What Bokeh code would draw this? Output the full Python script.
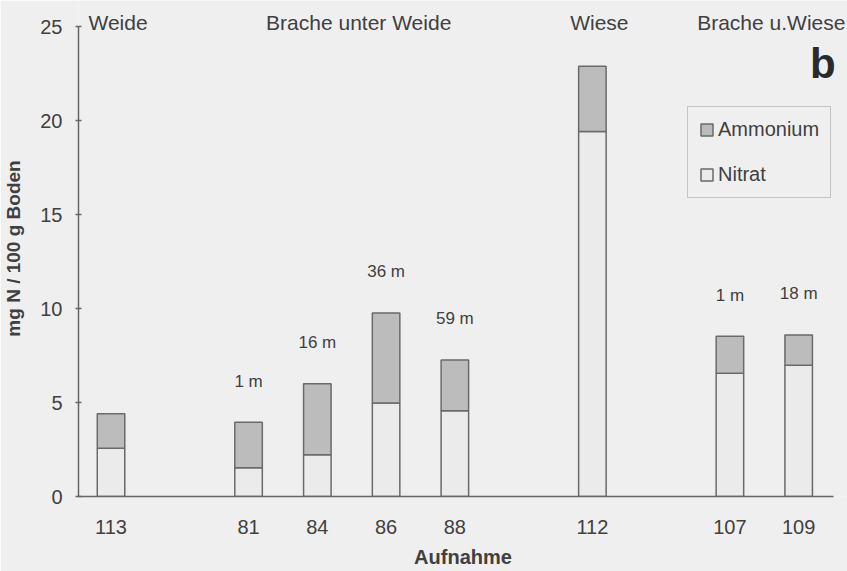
from bokeh.plotting import figure
from bokeh.models import (ColumnDataSource, Range1d, FixedTicker, Legend, LegendItem, Label)
from bokeh.core.properties import value
from bokeh.embed import file_html
from bokeh.resources import INLINE

# Soil mineral nitrogen per plot (mg N / 100 g soil)
aufnahme = ["113", "81", "84", "86", "88", "112", "107", "109"]
slot = [0, 2, 3, 4, 5, 7, 9, 10]
nitrat = [2.57, 1.53, 2.22, 4.98, 4.56, 19.43, 6.56, 6.99]
ammonium = [1.83, 2.42, 3.78, 4.79, 2.71, 3.47, 1.97, 1.61]
distance = ["", "1 m", "16 m", "36 m", "59 m", "", "1 m", "18 m"]

groups = ["Weide", "Brache unter Weide", "Wiese", "Brache u.Wiese"]
group_members = [[0], [2, 3, 4, 5], [7], [9, 10]]

FONT = "Liberation Sans"
TXT = "#404040"
BG = "#efefef"

total = [n + a for n, a in zip(nitrat, ammonium)]
src = ColumnDataSource(dict(x=slot, nitrat=nitrat, total=total, dist=distance))

p = figure(width=847, height=571, x_range=Range1d(-0.473, 10.71), y_range=Range1d(0, 26.4),
           output_backend="svg", toolbar_location=None,
           min_border_left=78, min_border_right=0, min_border_top=0, min_border_bottom=75)
p.background_fill_color = BG
p.border_fill_color = BG
p.outline_line_color = None
p.grid.visible = False

bw = 0.4
r_nit = p.vbar(x="x", bottom=0, top="nitrat", width=bw, source=src,
               fill_color="#ebebeb", line_color="#6a6a6a", line_width=1.5)
r_amm = p.vbar(x="x", bottom="nitrat", top="total", width=bw, source=src,
               fill_color="#bcbcbc", line_color="#6a6a6a", line_width=1.5)

# distance labels above the fallow bars
p.text(x="x", y="total", text="dist", source=src, y_offset=-41,
       text_align="center", text_baseline="middle", text_font=value(FONT),
       text_font_size="17px", text_color=TXT)

# land-use group headers
gx = [sum(slot[i] for i in range(len(slot)) if slot[i] in m) / len(m) for m in group_members]
gsrc = ColumnDataSource(dict(x=gx, y=[25.23] * len(groups), t=groups))
p.text(x="x", y="y", text="t", source=gsrc, x_offset=7,
       text_align="center", text_baseline="middle", text_font=value(FONT),
       text_font_size="21px", text_color=TXT)

p.add_layout(Label(x=10.35, y=23.04, text="b", text_font=FONT, text_font_size="42px",
                   text_font_style="bold", text_color="#2a2a2a", text_align="center",
                   text_baseline="alphabetic"))

# axes
xa = p.xaxis[0]
xa.ticker = FixedTicker(ticks=slot)
xa.major_label_overrides = {s: a for s, a in zip(slot, aufnahme)}
xa.bounds = (-0.473, 10.51)
xa.major_tick_out = 0
xa.major_tick_in = 0
xa.minor_tick_out = 0
xa.axis_line_color = "#666666"
xa.axis_line_width = 1.5
xa.major_label_standoff = 23
xa.major_label_text_font = FONT
xa.major_label_text_font_size = "20px"
xa.major_label_text_color = TXT
xa.axis_label = "Aufnahme"
xa.axis_label_text_font = FONT
xa.axis_label_text_font_size = "20px"
xa.axis_label_text_font_style = "bold"
xa.axis_label_text_color = TXT
xa.axis_label_standoff = 9

ya = p.yaxis[0]
ya.ticker = FixedTicker(ticks=[0, 5, 10, 15, 20, 25])
ya.bounds = (0, 25)
ya.major_tick_out = 3
ya.major_tick_in = 3
ya.minor_tick_out = 0
ya.minor_tick_in = 0
ya.major_tick_line_color = "#666666"
ya.major_tick_line_width = 1.5
ya.axis_line_color = "#666666"
ya.axis_line_width = 1.5
ya.major_label_standoff = 13
ya.major_label_text_font = FONT
ya.major_label_text_font_size = "20px"
ya.major_label_text_color = TXT
ya.axis_label = "mg N / 100 g Boden"
ya.axis_label_text_font = FONT
ya.axis_label_text_font_size = "19px"
ya.axis_label_text_font_style = "bold"
ya.axis_label_text_color = TXT
ya.axis_label_standoff = 13

legend = Legend(items=[LegendItem(label="Ammonium", renderers=[r_amm]),
                       LegendItem(label="Nitrat", renderers=[r_nit])],
                location=(609, 298), margin=0, padding=11, spacing=22,
                glyph_width=15, glyph_height=15, label_standoff=4,
                label_text_font=FONT, label_text_font_size="20px", label_text_color=TXT,
                border_line_color="#9a9a9a", border_line_width=1.2,
                background_fill_color=BG, background_fill_alpha=1.0)
p.add_layout(legend)

open("out.html", "w").write(file_html(p, INLINE))
